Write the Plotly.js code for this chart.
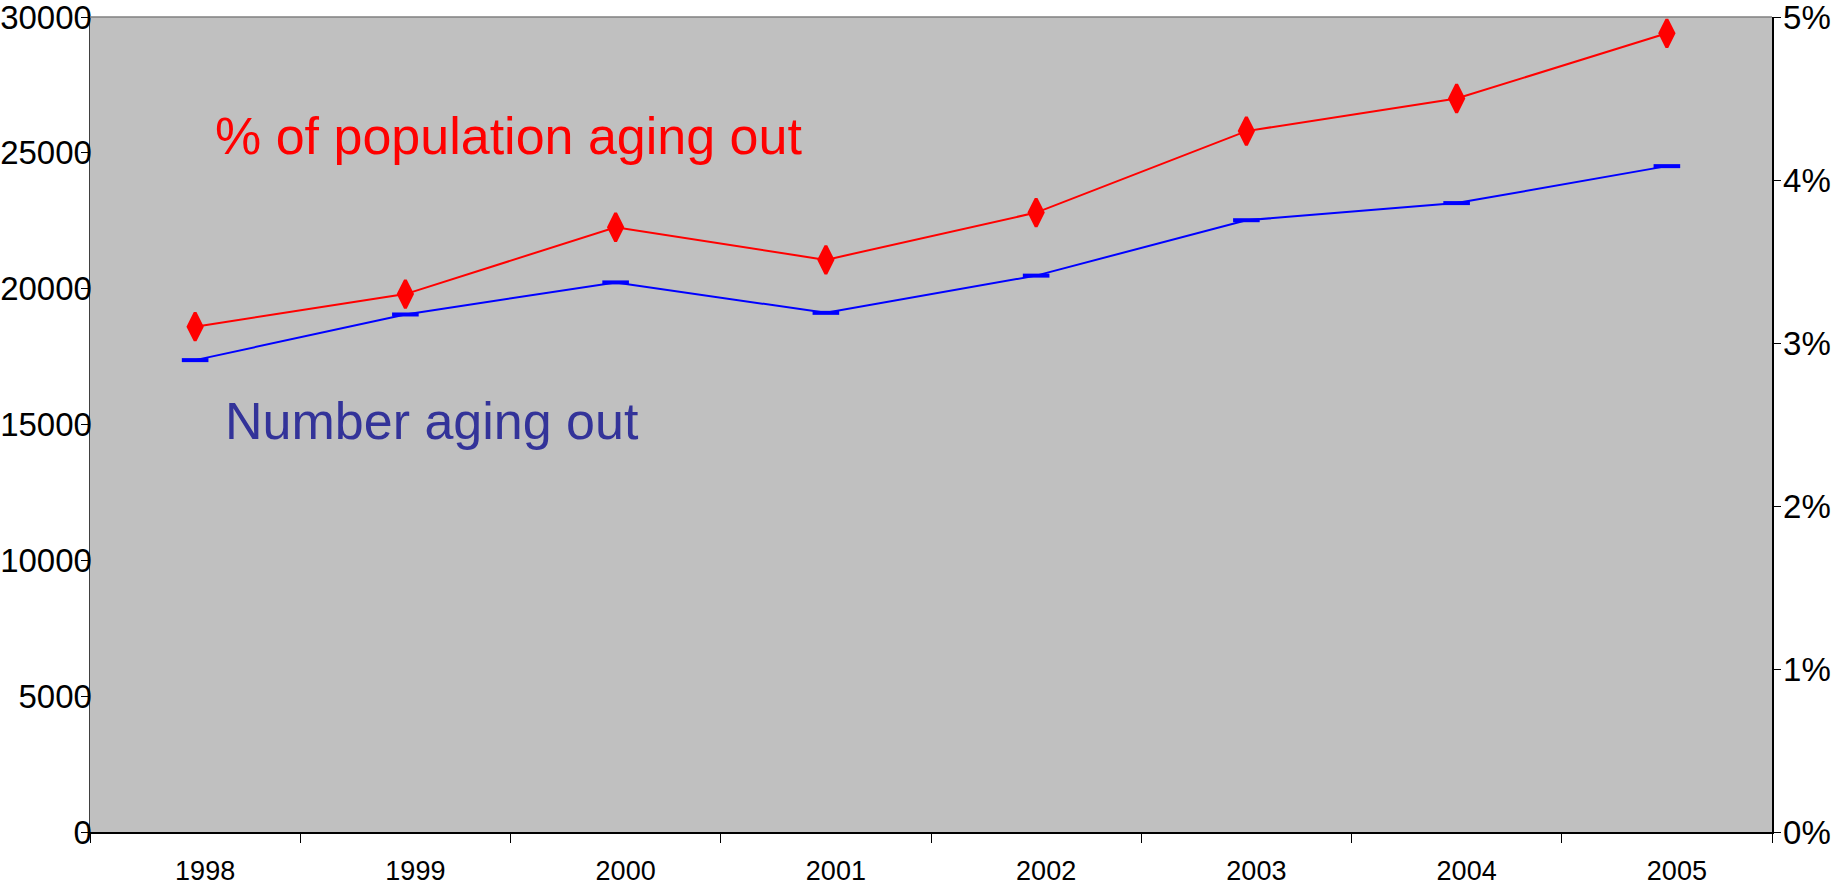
<!DOCTYPE html>
<html>
<head>
<meta charset="utf-8">
<script src="https://cdn.plot.ly/plotly-3.0.1.min.js"></script>
<style>html,body{margin:0;padding:0;background:#fff;}#chart{width:1843px;height:890px;}</style>
</head>
<body>
<div id="chart"></div>
<script>
const years = ['1998','1999','2000','2001','2002','2003','2004','2005'];
const numberAgingOut = [17370, 19050, 20230, 19110, 20480, 22520, 23150, 24510];
const pctAgingOut = [0.031, 0.033, 0.0371, 0.0351, 0.038, 0.043, 0.045, 0.049];
const leftTicks = [0, 5000, 10000, 15000, 20000, 25000, 30000];
const rightTicks = [0, 0.01, 0.02, 0.03, 0.04, 0.05];
const labelPct = '% of population aging out';
const labelNum = 'Number aging out';

const FONT = 'Liberation Sans, Arial, sans-serif';

const traces = [
  {
    x: years, y: numberAgingOut, type: 'scatter', mode: 'lines+markers',
    yaxis: 'y', name: labelNum,
    line: {color: '#0000FF', width: 2},
    marker: {symbol: 'line-ew', size: 19, line: {color: '#0000FF', width: 4}},
    hoverinfo: 'skip'
  },
  {
    x: years, y: pctAgingOut, type: 'scatter', mode: 'lines+markers',
    yaxis: 'y2', name: labelPct,
    line: {color: '#FF0000', width: 2},
    marker: {symbol: 'diamond-tall', size: 20, color: '#FF0000', line: {color: '#FF0000', width: 3}},
    hoverinfo: 'skip'
  }
];

const layout = {
  width: 1843, height: 890,
  margin: {l: 90, r: 71, t: 17, b: 58, pad: 0},
  paper_bgcolor: '#FFFFFF',
  plot_bgcolor: '#C0C0C0',
  showlegend: false,
  font: {family: FONT, color: '#000000'},
  xaxis: {
    type: 'category', range: [-0.5, 7.5], tickson: 'boundaries',
    ticks: 'outside', ticklen: 9, tickcolor: '#000', tickwidth: 1,
    showline: true, linecolor: '#000', linewidth: 1.5,
    showgrid: false, zeroline: false,
    tickfont: {size: 27, family: FONT, color: '#000'},
    ticklabelshift: 10, ticklabelstandoff: 14
  },
  yaxis: {
    range: [0, 30000], tickvals: leftTicks, ticktext: leftTicks.map(String),
    ticks: 'outside', ticklen: 8, tickcolor: '#000', tickwidth: 1,
    showline: true, linecolor: '#404040', linewidth: 1.5,
    showgrid: false, zeroline: false,
    tickfont: {size: 33, family: FONT, color: '#000'},
    ticklabelstandoff: -18, ticklabeloverflow: 'allow'
  },
  yaxis2: {
    range: [0, 0.05], tickvals: rightTicks, tickformat: '.0%',
    overlaying: 'y', side: 'right',
    ticks: 'outside', ticklen: 7, tickcolor: '#000', tickwidth: 1,
    showline: true, linecolor: '#000', linewidth: 1.5,
    showgrid: false, zeroline: false,
    tickfont: {size: 33, family: FONT, color: '#000'},
    ticklabelstandoff: -4, ticklabeloverflow: 'allow'
  },
  shapes: [
    {type: 'line', xref: 'paper', yref: 'paper', x0: 0, x1: 1, y0: 1, y1: 1,
     line: {color: '#808080', width: 1.5}}
  ],
  annotations: [
    {text: labelPct, xref: 'paper', yref: 'paper', x: 0.0731, y: 0.854,
     xanchor: 'left', yanchor: 'middle', showarrow: false,
     font: {size: 52, family: FONT, color: '#FF0000'}},
    {text: labelNum, xref: 'paper', yref: 'paper', x: 0.079, y: 0.504,
     xanchor: 'left', yanchor: 'middle', showarrow: false,
     font: {size: 52, family: FONT, color: '#333399'}}
  ]
};

Plotly.newPlot('chart', traces, layout, {displayModeBar: false, staticPlot: true});
</script>
</body>
</html>
